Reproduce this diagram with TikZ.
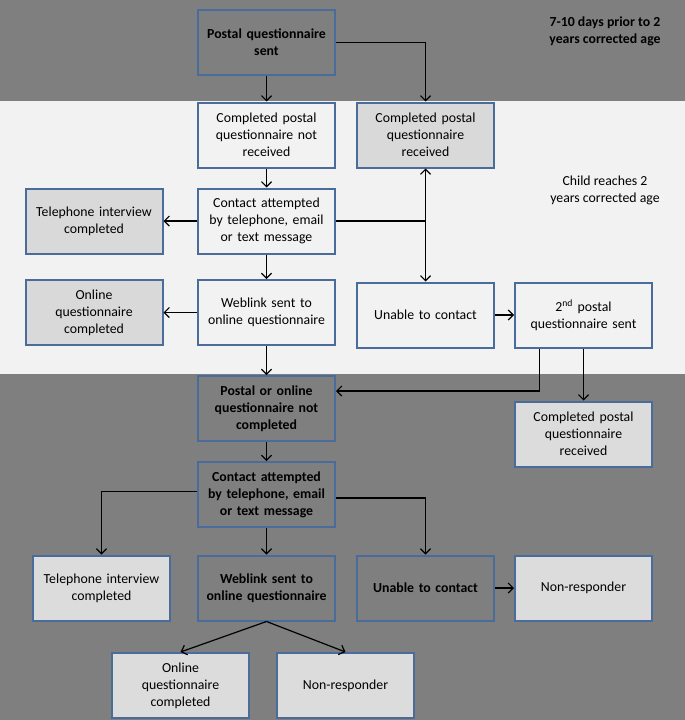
\documentclass[tikz,border=0pt]{standalone}
\usepackage{fontspec}
\setmainfont{Carlito}
\usetikzlibrary{arrows.meta,calc}
\definecolor{darkband}{HTML}{7F7F7F}
\definecolor{lightband}{HTML}{F2F2F2}
\definecolor{boxborder}{HTML}{4A6C9B}
\definecolor{greyfill}{HTML}{D9D9D9}
\definecolor{lightfill}{HTML}{DCDCDC}
\begin{document}
\begin{tikzpicture}[x=1pt,y=-1pt,
  box/.style={draw=boxborder, line width=2pt, minimum width=137pt, minimum height=65pt,
    inner sep=2pt, align=center, text width=130pt,
    font=\fontsize{13.8}{17}\selectfont},
  boldbox/.style={box, fill=darkband, font=\fontsize{13.8}{17}\selectfont\bfseries},
  whitebox/.style={box, fill=lightband},
  greybox/.style={box, fill=greyfill},
  litebox/.style={box, fill=lightfill},
  arr/.style={line width=1.2pt, -{Straight Barb[length=5pt,width=10pt,line width=1.2pt]}},
  lbl/.style={align=center, font=\fontsize{13.8}{17}\selectfont}
]
\useasboundingbox (0,0) rectangle (685,720);
\fill[darkband] (0,0) rectangle (685,101);
\fill[lightband] (0,101) rectangle (685,374);
\fill[darkband] (0,374) rectangle (685,720);

\node[boldbox]  (A) at (266.5,42.5) {Postal questionnaire\\sent};
\node[whitebox] (B) at (266.5,135) {Completed postal\\questionnaire not\\received};
\node[greybox]  (C) at (425.5,135) {Completed postal\\questionnaire\\received};
\node[whitebox] (D) at (266.5,221) {Contact attempted\\by telephone, email\\or text message};
\node[greybox]  (E) at (94,221) {Telephone interview\\completed};
\node[greybox]  (F) at (94,312.5) {Online\\questionnaire\\completed};
\node[whitebox] (G) at (266.5,312.5) {Weblink sent to\\online questionnaire};
\node[whitebox] (H) at (425.5,315) {Unable to contact};
\node[whitebox] (I) at (583.5,315) {2\textsuperscript{nd} postal\\questionnaire sent};
\node[boldbox]  (J) at (266.5,408.5) {Postal or online\\questionnaire not\\completed};
\node[litebox]  (K) at (583.5,434) {Completed postal\\questionnaire\\received};
\node[boldbox]  (L) at (266.5,494.5) {Contact attempted\\by telephone, email\\or text message};
\node[litebox]  (M) at (101.5,588) {Telephone interview\\completed};
\node[boldbox]  (N) at (266.5,588) {Weblink sent to\\online questionnaire};
\node[boldbox]  (O) at (425.5,588) {Unable to contact};
\node[litebox]  (P) at (583.5,588) {Non-responder};
\node[litebox]  (Q) at (180.5,685.5) {Online\\questionnaire\\completed};
\node[litebox]  (R) at (345.5,685.5) {Non-responder};

\node[lbl, font=\fontsize{13.8}{17}\selectfont\bfseries] (T1) at (605,31) {7-10 days prior to 2\\years corrected age};
\node[lbl] (T2) at (605,190.5) {Child reaches 2\\years corrected age};

\draw[arr] (A.south) -- (B.north);
\draw[arr] (A.east) -| (C.north);
\draw[arr] (B.south) -- (D.north);
\draw[arr] (D.west) -- (E.east);
\draw[line width=1.2pt] (D.east) -- (D.east -| C.south) coordinate (jn);
\draw[arr] (jn) -- (C.south);
\draw[arr] (jn) -- (H.north);
\draw[arr] (D.south) -- (G.north);
\draw[arr] (G.west) -- (F.east);
\draw[arr] (H.east) -- (I.west);
\draw[arr] (G.south) -- (J.north);
\draw[arr] ([xshift=-44pt]I.south) |- ([yshift=17.5pt]J.east);
\draw[arr] (I.south) -- (K.north);
\draw[arr] (J.south) -- (L.north);
\draw[arr] ([yshift=3pt]L.west) -| (M.north);
\draw[arr] ([yshift=-3.5pt]L.east) -| (O.north);
\draw[arr] (L.south) -- (N.north);
\draw[arr] (O.east) -- (P.west);
\draw[arr] (N.south) -- (Q.north);
\draw[arr] (N.south) -- (R.north);
\end{tikzpicture}
\end{document}
